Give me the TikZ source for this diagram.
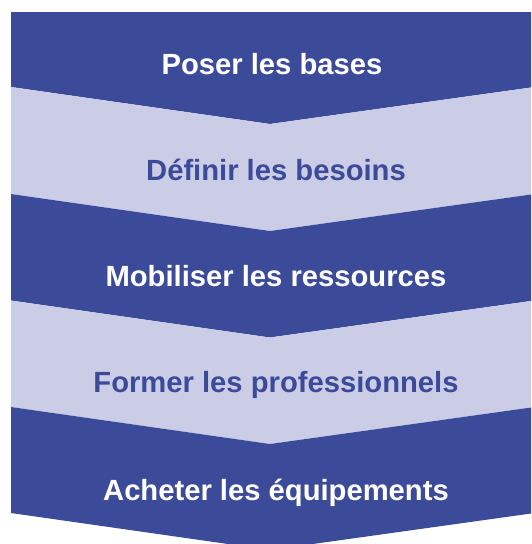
\documentclass[tikz,border=0pt]{standalone}
\usepackage{fontspec}
\setmainfont{Liberation Sans}
\definecolor{bandDark}{HTML}{3C4A9A}
\definecolor{bandLight}{HTML}{CBCCE5}
\begin{document}
\begin{tikzpicture}[x=1pt,y=-1pt,
  darkband/.style={fill=bandDark},
  lightband/.style={fill=bandLight},
  steptext/.style={font=\bfseries\fontsize{29.2}{31}\selectfont, anchor=base, inner sep=0pt},
  ondark/.style={steptext, text=white},
  onlight/.style={steptext, text=bandDark}]
\useasboundingbox (0,0) rectangle (531,544);
\def\ax{270}
\def\d{37}
% band 1 (flat top)
\fill[darkband] (11,12) -- (531,12) -- (531,87.5) -- (\ax,87+\d) -- (11,87) -- cycle;
% band 2
\fill[lightband] (11,87) -- (\ax,87+\d) -- (531,87.5) -- (531,194.5) -- (\ax,194+\d) -- (11,194) -- cycle;
% band 3
\fill[darkband] (11,194) -- (\ax,194+\d) -- (531,194.5) -- (531,301) -- (\ax,300.5+\d) -- (11,300.5) -- cycle;
% band 4
\fill[lightband] (11,300.5) -- (\ax,300.5+\d) -- (531,301) -- (531,407.5) -- (\ax,407+\d) -- (11,407) -- cycle;
% band 5
\fill[darkband] (11,407) -- (\ax,407+\d) -- (531,407.5) -- (531,513.5) -- (\ax,513+\d) -- (11,513) -- cycle;
\node[ondark] (s1) at (272,74) {Poser les bases};
\node[onlight] (s2) at (276,180.5) {Définir les besoins};
\node[ondark] (s3) at (276,286.5) {Mobiliser les ressources};
\node[onlight] (s4) at (276,392) {Former les professionnels};
\node[ondark] (s5) at (276,500) {Acheter les équipements};
\end{tikzpicture}
\end{document}
